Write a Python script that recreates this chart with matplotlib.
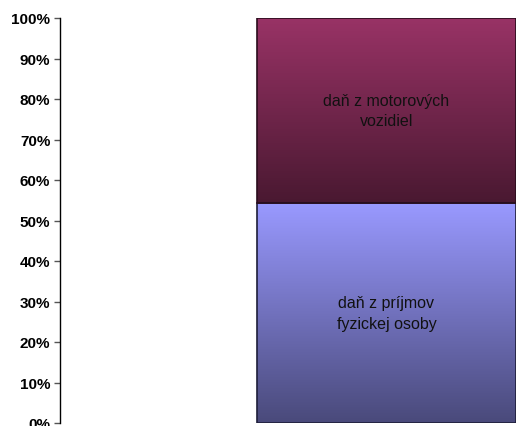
import matplotlib.pyplot as plt
import numpy as np
from matplotlib.colors import to_rgb

plt.rcParams["font.family"] = ["Liberation Sans", "DejaVu Sans"]

# podiel jednotlivých daní (%)
labels = ["daň z príjmov\nfyzickej osoby", "daň z motorových\nvozidiel"]
shares = [54.3, 45.7]
colors = ["#9999ff", "#993366"]
edges = ["#1e1e3a", "#2a0c1c"]

ticks = np.arange(0, 101, 10)

fig = plt.figure(figsize=(5.16, 4.27), dpi=100)
ax = fig.add_axes([60 / 516, 3 / 427, 456 / 516, 405 / 427])

x_left, x_right = 0.432, 1.0
xc = (x_left + x_right) / 2
w = x_right - x_left

bottom = 0
for lab, val, col, ec in zip(labels, shares, colors, edges):
    bars = ax.bar(xc, val, width=w, bottom=bottom, facecolor="none",
                  edgecolor=ec, linewidth=1.2, zorder=3)
    # prechod farby: svetlá hore, tmavá dole
    base = np.array(to_rgb(col))
    t = np.linspace(0, 1, 256)[:, None]
    grad = base * (0.48 + 0.52 * t)
    im = ax.imshow(grad[:, None, :], extent=[x_left, x_right, bottom, bottom + val],
                   origin="lower", aspect="auto", interpolation="bilinear", zorder=2)
    im.set_clip_path(bars[0])
    ax.text(xc, bottom + val / 2, lab, ha="center", va="center",
            fontsize=11.5, color="#111111", linespacing=1.45, zorder=4)
    bottom += val

ax.set_xlim(0, 1)
ax.set_ylim(0, 100)
ax.set_yticks(ticks)
ax.set_yticklabels([f"{t}%" for t in ticks], fontweight="bold", fontsize=11)
ax.tick_params(axis="y", direction="out", length=4, width=1, color="#555555", pad=3)
ax.set_xticks([])
for s in ["top", "right", "bottom"]:
    ax.spines[s].set_visible(False)
ax.spines["left"].set_linewidth(1)

fig.savefig("out.png", dpi=100)
